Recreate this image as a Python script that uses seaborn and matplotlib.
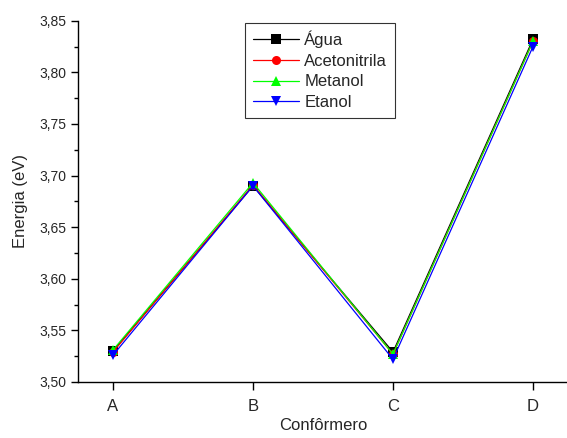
import pandas as pd
import matplotlib
matplotlib.use('Agg')
import matplotlib.pyplot as plt
import seaborn as sns
from matplotlib.ticker import MultipleLocator, FuncFormatter

# dados
conformeros = ['A', 'B', 'C', 'D']
agua = [3.530, 3.690, 3.529, 3.832]
acetonitrila = [3.529, 3.691, 3.527, 3.830]
metanol = [3.531, 3.693, 3.527, 3.830]
etanol = [3.526, 3.690, 3.522, 3.825]

solventes = ['Água', 'Acetonitrila', 'Metanol', 'Etanol']
cores = ['#000000', '#ff0000', '#00ff00', '#0000ff']
marcadores = ['s', 'o', '^', 'v']

df = pd.DataFrame({
    'Conformero': conformeros * 4,
    'x': list(range(4)) * 4,
    'Energia': agua + acetonitrila + metanol + etanol,
    'Solvente': [s for s in solventes for _ in conformeros],
})

sns.set_style('ticks')
plt.rcParams['font.family'] = ['Liberation Sans', 'DejaVu Sans']

fig = plt.figure(figsize=(5.67, 4.38), dpi=100)
ax = fig.add_axes([78 / 567, 56 / 438, 490 / 567, 361.3 / 438])

sns.lineplot(data=df, x='x', y='Energia', hue='Solvente', style='Solvente',
             hue_order=solventes, style_order=solventes,
             palette=cores, markers=marcadores, dashes=False,
             linewidth=0.9, markersize=6.5, markeredgewidth=0,
             sort=False, ax=ax)

ax.set_xlim(-0.25, 3.25)
ax.set_ylim(3.50, 3.85)
ax.set_xticks(range(4))
ax.set_xticklabels(conformeros, fontsize=12)
ax.yaxis.set_major_locator(MultipleLocator(0.05))
ax.yaxis.set_minor_locator(MultipleLocator(0.025))
ax.yaxis.set_major_formatter(FuncFormatter(lambda v, p: f'{v:.2f}'.replace('.', ',')))
ax.tick_params(axis='y', labelsize=10, length=5, width=1, color='black')
ax.tick_params(axis='y', which='minor', length=3, width=1, color='black')
ax.tick_params(axis='x', length=6, width=1, color='black', pad=6)

for s in ['top', 'right']:
    ax.spines[s].set_visible(False)
for s in ['left', 'bottom']:
    ax.spines[s].set_color('black')
    ax.spines[s].set_linewidth(1)

ax.set_xlabel('Confôrmero', fontsize=12, labelpad=3)
ax.set_ylabel('Energia (eV)', fontsize=12, labelpad=8)

leg = ax.legend(title=None, loc='upper left', bbox_to_anchor=(167 / 490, 1.0 - 2 / 361),
                fontsize=12, frameon=True, fancybox=False, handlelength=2.8,
                handletextpad=0.3, borderpad=0.45, labelspacing=0.35, borderaxespad=0)
leg.get_frame().set_edgecolor('black')
leg.get_frame().set_linewidth(0.8)

fig.savefig('out.png', dpi=100)
